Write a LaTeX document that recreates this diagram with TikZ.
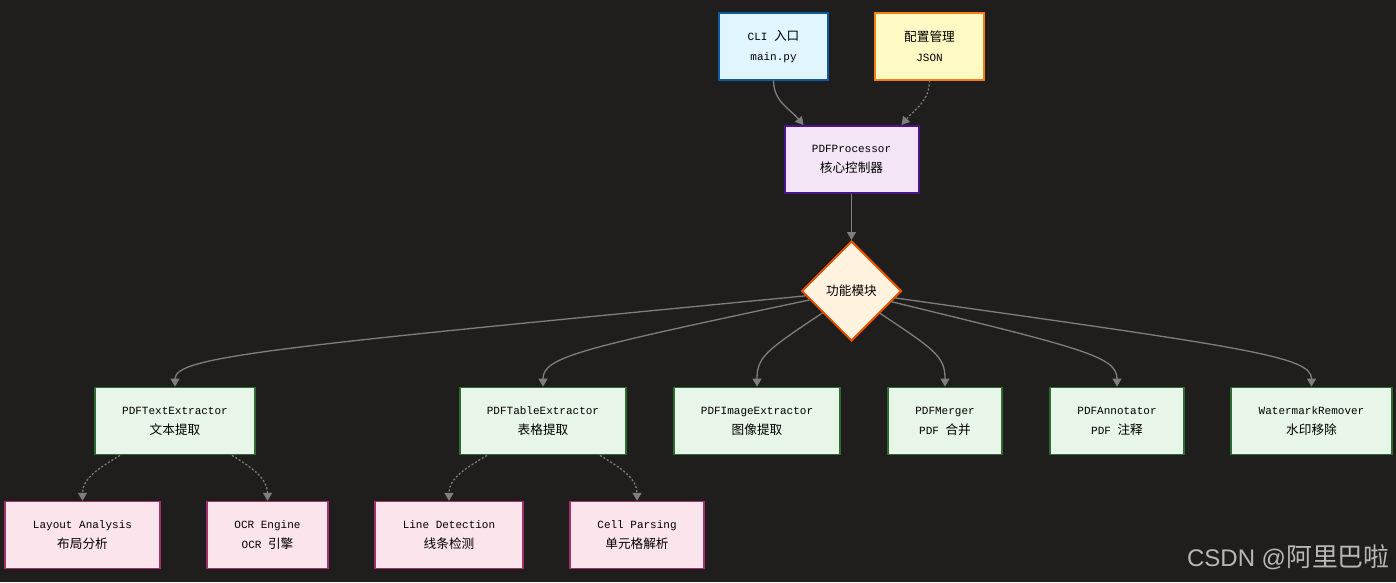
\documentclass[tikz,border=0pt]{standalone}
\usepackage{fontspec}
\setmainfont{Liberation Mono}
\newfontfamily\cjk[Scale=1.15]{Noto Sans CJK SC}
\newfontfamily\wmfont{Liberation Sans}
\newfontfamily\wmcjk[Scale=1.08]{Noto Sans CJK SC}
\usetikzlibrary{shapes.geometric,arrows.meta,calc}
\definecolor{bgc}{HTML}{1F1E1D}
\definecolor{edgec}{HTML}{7E7E7E}
\definecolor{clifill}{HTML}{E1F5FE}\definecolor{clidraw}{HTML}{0D5A9E}
\definecolor{cfgfill}{HTML}{FFF9C4}\definecolor{cfgdraw}{HTML}{F57F17}
\definecolor{procfill}{HTML}{F3E5F5}\definecolor{procdraw}{HTML}{4A148C}
\definecolor{dfill}{HTML}{FFF3E0}\definecolor{ddraw}{HTML}{E65100}
\definecolor{gfill}{HTML}{E8F5E9}\definecolor{gdraw}{HTML}{2E6B30}
\definecolor{pfill}{HTML}{FCE4EC}\definecolor{pdraw}{HTML}{A0336E}
\definecolor{wmc}{HTML}{B8B8B8}
\tikzset{
  box/.style={rectangle, inner sep=0pt, align=center, line width=2pt,
    minimum height=67pt, font=\fontsize{11}{20}\selectfont, text=black},
  clibox/.style={box, fill=clifill, draw=clidraw},
  cfgbox/.style={box, fill=cfgfill, draw=cfgdraw},
  procbox/.style={box, fill=procfill, draw=procdraw},
  gbox/.style={box, fill=gfill, draw=gdraw, line width=1.8pt},
  pbox/.style={box, fill=pfill, draw=pdraw, line width=1.4pt},
  dbox/.style={diamond, aspect=1, inner sep=0pt, minimum width=100pt, minimum height=100pt,
    fill=dfill, draw=ddraw, line width=2pt, font=\fontsize{11}{20}\selectfont, text=black},
  edge/.style={draw=edgec, line width=1.3pt, -{Triangle[length=8pt,width=9pt]}},
  dedge/.style={edge, dash pattern=on 2pt off 2pt},
}
\newcommand\diaedge[3]{%
  \coordinate (#3b) at ($(#2.north)+(0,30)$);
  \coordinate (#3a) at ($(#1)!0.85!(#3b)$);
  \draw[edge] (#1) .. controls (#3a) and (#3b) .. (#2.north);}
\begin{document}
\begin{tikzpicture}[x=1pt,y=1pt]
\useasboundingbox (0,0) rectangle (1396,-582);
\fill[bgc] (0,0) rectangle (1396,-582);
% top
\node[clibox, minimum width=109pt] (cli) at (773.5,-46) {CLI {\cjk 入口}\\main.py};
\node[cfgbox, minimum width=109pt] (cfg) at (929.5,-46) {{\cjk 配置管理}\\JSON};
\node[procbox, minimum width=134pt] (proc) at (851.5,-159.5) {PDFProcessor\\{\cjk 核心控制器}};
\node[dbox] (mod) at (851.5,-291) {\cjk 功能模块};
% row 2
\node[gbox, minimum width=160pt] (te) at (175,-421) {PDFTextExtractor\\{\cjk 文本提取}};
\node[gbox, minimum width=166pt] (tb) at (543,-421) {PDFTableExtractor\\{\cjk 表格提取}};
\node[gbox, minimum width=166pt] (im) at (757,-421) {PDFImageExtractor\\{\cjk 图像提取}};
\node[gbox, minimum width=114pt] (mg) at (945,-421) {PDFMerger\\PDF {\cjk 合并}};
\node[gbox, minimum width=134pt] (an) at (1117,-421) {PDFAnnotator\\PDF {\cjk 注释}};
\node[gbox, minimum width=161pt] (wm) at (1311.5,-421) {WatermarkRemover\\{\cjk 水印移除}};
% row 3
\node[pbox, minimum width=155pt] (la) at (82.5,-535) {Layout Analysis\\{\cjk 布局分析}};
\node[pbox, minimum width=121pt] (ocr) at (267.5,-535) {OCR Engine\\OCR {\cjk 引擎}};
\node[pbox, minimum width=148pt] (ld) at (449,-535) {Line Detection\\{\cjk 线条检测}};
\node[pbox, minimum width=134pt] (cp) at (637,-535) {Cell Parsing\\{\cjk 单元格解析}};
% edges top
\coordinate (procA) at ($(proc.north)+(-48,0)$);
\coordinate (procB) at ($(proc.north)+(50,0)$);
\draw[edge] (cli.south) to[out=-90,in=130] (procA);
\draw[dedge] (cfg.south) to[out=-90,in=50] (procB);
\draw[edge] (proc.south) -- (mod.north);
% diamond edges
\diaedge{mod.186}{te}{e1}
\diaedge{mod.192}{tb}{e2}
\diaedge{mod.217}{im}{e3}
\diaedge{mod.-38}{mg}{e4}
\diaedge{mod.-15}{an}{e5}
\diaedge{mod.-9}{wm}{e6}
% row 2 -> row 3
\coordinate (teL) at ($(te.south)+(-55,0)$);
\coordinate (teR) at ($(te.south)+(57,0)$);
\coordinate (tbL) at ($(tb.south)+(-56,0)$);
\coordinate (tbR) at ($(tb.south)+(57,0)$);
\draw[dedge] (teL) to[out=211,in=90] (la.north);
\draw[dedge] (teR) to[out=-31,in=90] (ocr.north);
\draw[dedge] (tbL) to[out=211,in=90] (ld.north);
\draw[dedge] (tbR) to[out=-31,in=90] (cp.north);
% watermark
\node[anchor=east, text=wmc, font=\wmfont\fontsize{24}{28}\selectfont, inner sep=0pt] (wmk) at (1390,-557) {CSDN @{\wmcjk 阿里巴啦}};
\end{tikzpicture}
\end{document}
